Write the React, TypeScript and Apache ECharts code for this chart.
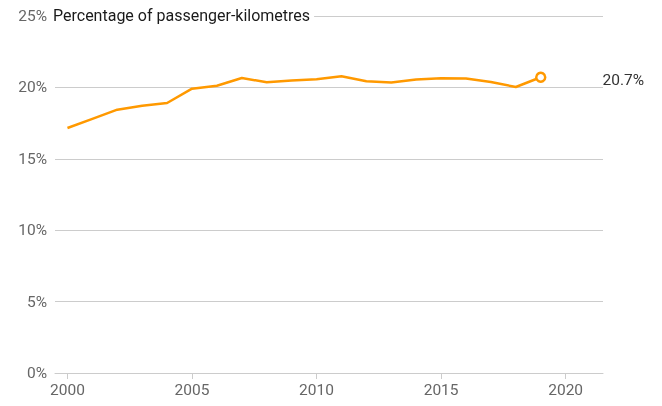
import React, { useEffect, useRef } from "react";
import * as echarts from "echarts";

const years = [2000, 2001, 2002, 2003, 2004, 2005, 2006, 2007, 2008, 2009, 2010, 2011, 2012, 2013, 2014, 2015, 2016, 2017, 2018, 2019];
const share = [17.16, 17.8, 18.44, 18.72, 18.91, 19.91, 20.12, 20.66, 20.36, 20.48, 20.57, 20.78, 20.43, 20.34, 20.55, 20.64, 20.62, 20.38, 20.03, 20.71];
const xTicks = [2000, 2005, 2010, 2015, 2020];
const yTicks = [0, 5, 10, 15, 20, 25];
const titleText = "Percentage of passenger-kilometres";

export default function App() {
  const ref = useRef<HTMLDivElement>(null);
  useEffect(() => {
    if (!ref.current) return;
    const chart = echarts.init(ref.current, null, { renderer: "svg" });
    const last = share.length - 1;
    const data = years.map((y, i) => {
      if (i === last) {
        return {
          value: [y, share[i]],
          symbol: "circle",
          symbolSize: 9,
          itemStyle: { color: "#fff", borderColor: "#ff9900", borderWidth: 2.5 },
          label: {
            show: true,
            position: "right",
            distance: 56,
            offset: [0, 3],
            formatter: (p: any) => p.value[1].toFixed(1) + "%",
            color: "#333",
            fontSize: 15.5,
            fontFamily: "Roboto",
          },
        };
      }
      return { value: [y, share[i]], symbol: "none" };
    });
    chart.setOption({
      animation: false,
      title: {
        text: titleText,
        left: 51,
        top: 6,
        padding: [1, 4, 1, 2],
        backgroundColor: "#fff",
        textStyle: { fontSize: 16, fontWeight: "normal", color: "#1a1a1a", fontFamily: "Roboto" },
      },
      grid: { left: 55, right: 59, top: 16, bottom: 33, containLabel: false },
      xAxis: {
        type: "value",
        min: 1999.5,
        max: 2021.5,
        splitLine: { show: false },
        axisLine: { show: true, lineStyle: { color: "#ccc", width: 1 } },
        axisTick: { show: true, customValues: xTicks, length: 6, lineStyle: { color: "#ccc" } },
        axisLabel: {
          customValues: xTicks,
          color: "#666",
          fontSize: 15.5,
          fontFamily: "Roboto",
          margin: 9,
          formatter: (v: number) => String(v),
        },
      },
      yAxis: {
        type: "value",
        min: 0,
        max: 25,
        interval: 5,
        axisLine: { show: false },
        axisTick: { show: false },
        splitLine: { lineStyle: { color: "#ccc", width: 1 } },
        axisLabel: {
          color: "#666",
          fontSize: 15.5,
          fontFamily: "Roboto",
          margin: 8,
          formatter: (v: number) => (yTicks.includes(v) ? v + "%" : ""),
        },
      },
      series: [
        {
          type: "line",
          data,
          z: 3,
          lineStyle: { color: "#ff9900", width: 2.5 },
          itemStyle: { color: "#ff9900" },
          showSymbol: true,
        },
      ],
    });
    return () => chart.dispose();
  }, []);
  return <div ref={ref} style={{ position: "fixed", left: 0, top: 0, width: 662, height: 406 }} />;
}
